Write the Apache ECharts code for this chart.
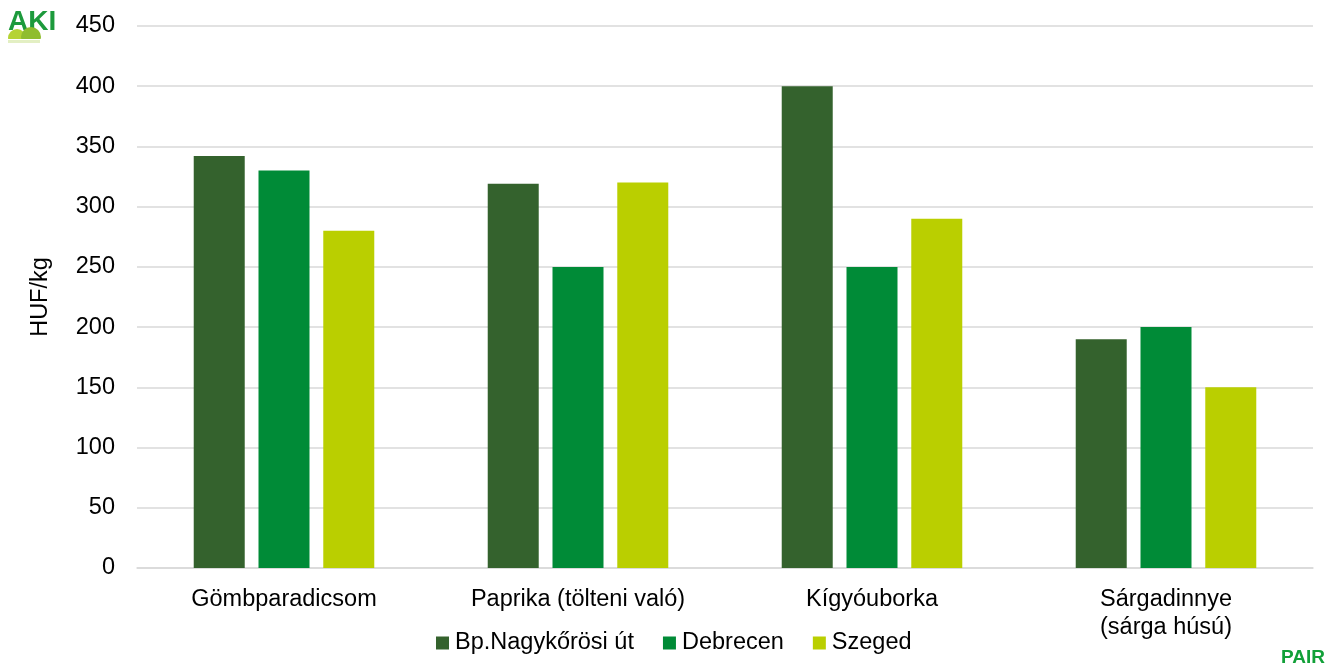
<!DOCTYPE html>
<html><head><meta charset="utf-8">
<script src="https://cdn.jsdelivr.net/npm/echarts@6/dist/echarts.min.js"></script>
<style>html,body{margin:0;padding:0;background:#fff}#c{width:1336px;height:667px}</style>
</head><body><div id="c"></div>
<script>
const categories = ['Gömbparadicsom', 'Paprika (tölteni való)', 'Kígyóuborka', 'Sárgadinnye\n(sárga húsú)'];
const seriesNames = ['Bp.Nagykőrösi út', 'Debrecen', 'Szeged'];
const bpValues = [342, 319, 400, 190];
const debrecenValues = [330, 250, 250, 200];
const szegedValues = [280, 320, 290, 150];
const colors = ['#34622d', '#008b37', '#bacf00'];
const font = 'Arial, "Liberation Sans", sans-serif';
const fs = 23.5;

const chart = echarts.init(document.getElementById('c'));
const data = [bpValues, debrecenValues, szegedValues];
chart.setOption({
  animation: false,
  textStyle: {fontFamily: font},
  grid: {left: 137, right: 23, top: 26, bottom: 99},
  legend: {
    top: 626, left: 431, itemWidth: 13, itemHeight: 13, itemGap: 29,
    icon: 'rect',
    textStyle: {fontSize: fs, color: '#000', fontFamily: font, padding: [0, 0, 0, 1]},
    data: seriesNames
  },
  xAxis: {
    type: 'category', data: categories,
    axisLine: {lineStyle: {color: '#d9d9d9', width: 1.5}},
    axisTick: {show: false},
    axisLabel: {fontSize: fs, color: '#000', margin: 18, lineHeight: 28, fontFamily: font}
  },
  yAxis: {
    type: 'value', min: 0, max: 450, interval: 50,
    name: 'HUF/kg', nameLocation: 'middle', nameGap: 84, nameRotate: 90,
    nameTextStyle: {fontSize: fs, color: '#000', fontFamily: font},
    axisLine: {show: false}, axisTick: {show: false},
    axisLabel: {fontSize: fs, color: '#000', margin: 22, fontFamily: font},
    splitLine: {lineStyle: {color: '#d9d9d9', width: 1.5}}
  },
  series: seriesNames.map((n, i) => ({
    name: n, type: 'bar', data: data[i], barWidth: 51, barGap: '27%',
    itemStyle: {color: colors[i]}
  })),
  graphic: [
    {type: 'text', left: 8, top: 8, z: 10, style: {text: 'AKI', fontSize: 28, fontWeight: 'bold', fill: '#1d9a3c', fontFamily: font}},
    {type: 'circle', z: 11, shape: {cx: 17, cy: 38, r: 9}, style: {fill: '#b5d334'}},
    {type: 'circle', z: 12, shape: {cx: 31, cy: 37, r: 10}, style: {fill: '#8fbd2f'}},
    {type: 'rect', z: 13, shape: {x: 0, y: 39, width: 60, height: 12}, style: {fill: '#fff'}},
    {type: 'rect', z: 14, shape: {x: 8, y: 40, width: 32, height: 3}, style: {fill: '#e3efc3'}},
    {type: 'text', left: 1281, top: 648, style: {text: 'PAIR', fontSize: 19, fontWeight: 'bold', fill: '#11a038', fontFamily: font}}
  ]
});
</script></body></html>
